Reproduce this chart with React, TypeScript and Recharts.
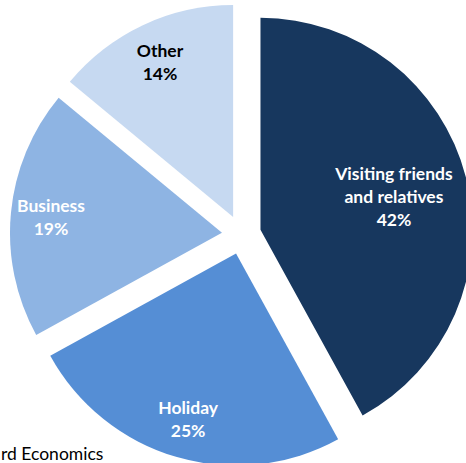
import { PieChart, Pie, Cell, Sector } from "recharts"

const categories = ["Visiting friends and relatives", "Holiday", "Business", "Other"]
const shares = [42, 25, 19, 14]
const labelLines = [["Visiting friends", "and relatives"], ["Holiday"], ["Business"], ["Other"]]
const COLORS = ["#17375E", "#558ED5", "#8EB4E3", "#C6D9F1"]
const TEXT_COLORS = ["#ffffff", "#ffffff", "#ffffff", "#000000"]
const SOURCE = "rd Economics"

const data = categories.map((name, i) => ({ name, value: shares[i] }))

const RADIAN = Math.PI / 180
const EXPLODE = 19.6
const FONT = "Lato, 'Open Sans', sans-serif"

// push each slice out along its middle angle
function ExplodedSector(props: any) {
  const { cx, cy, midAngle } = props
  const dx = EXPLODE * Math.cos(-midAngle * RADIAN)
  const dy = EXPLODE * Math.sin(-midAngle * RADIAN)
  return <Sector {...props} cx={cx + dx} cy={cy + dy} stroke="none" />
}

function SliceLabel(props: any) {
  const { cx, cy, midAngle, outerRadius, index, value } = props
  const lines = [...labelLines[index], `${value}%`]
  const k = lines.length > 2 ? 0.65 : 0.81
  const r = EXPLODE + outerRadius * k
  const x = cx + r * Math.cos(-midAngle * RADIAN)
  const y = cy + r * Math.sin(-midAngle * RADIAN)
  const lh = 23
  const top = y - ((lines.length - 1) * lh) / 2
  return (
    <text
      x={x}
      y={top}
      textAnchor="middle"
      dominantBaseline="central"
      fill={TEXT_COLORS[index]}
      fontFamily={FONT}
      fontWeight="bold"
      fontSize={17.5}
    >
      {lines.map((line, i) => (
        <tspan key={i} x={x} y={top + i * lh} dominantBaseline="central">
          {line}
        </tspan>
      ))}
    </text>
  )
}

export default function App() {
  return (
    <div style={{ position: "absolute", left: 0, top: 0, width: 466, height: 463, background: "#fff" }}>
      <PieChart width={466} height={463} margin={{ top: 0, right: 0, bottom: 0, left: 0 }}>
        <Pie
          data={data}
          dataKey="value"
          nameKey="name"
          cx={241.5}
          cy={234.7}
          outerRadius={212}
          startAngle={90}
          endAngle={-270}
          stroke="none"
          shape={ExplodedSector}
          label={SliceLabel}
          labelLine={false}
          isAnimationActive={false}
        >
          {data.map((entry, i) => (
            <Cell key={`cell-${i}`} fill={COLORS[i]} />
          ))}
        </Pie>
        <text x={1} y={453} textAnchor="start" dominantBaseline="central" fontFamily={FONT} fontSize={17.5} fill="#000">
          {SOURCE}
        </text>
      </PieChart>
    </div>
  )
}
